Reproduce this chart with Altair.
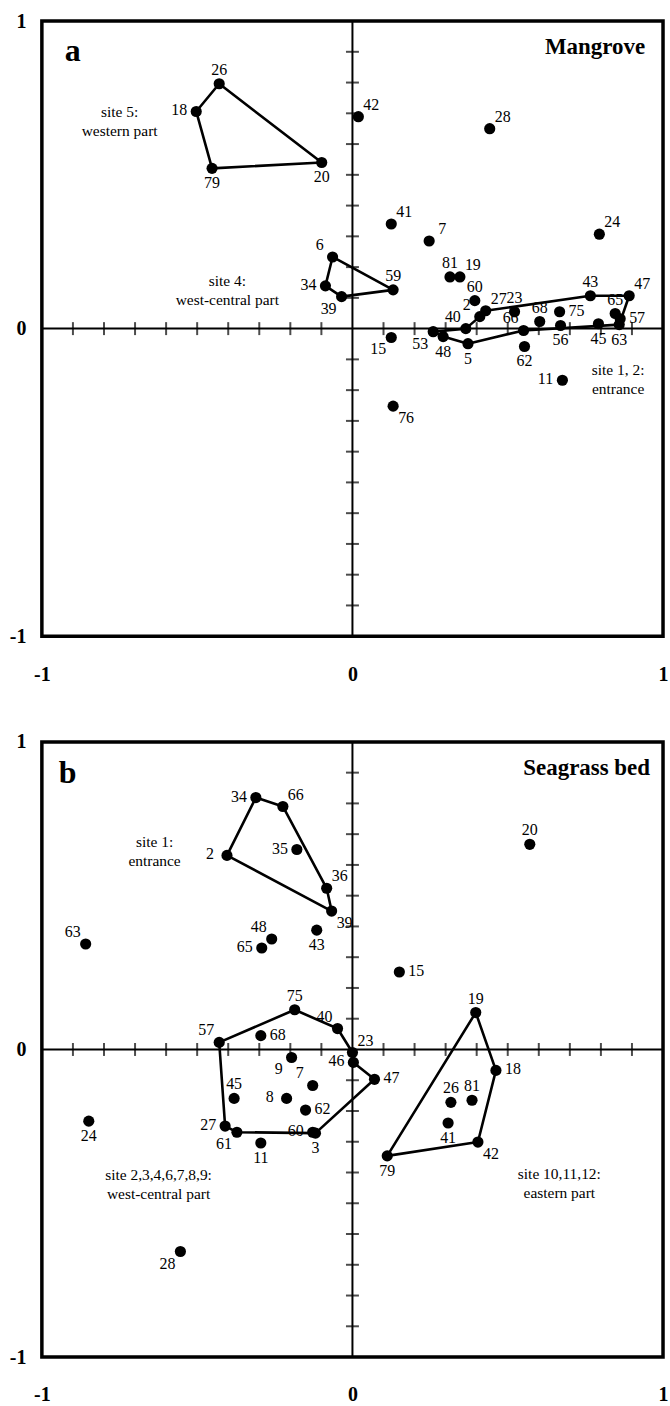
import altair as alt
import pandas as pd

SERIF = "Liberation Serif"

# ---------------- Panel a: Mangrove ----------------
a_ids = [26, 18, 79, 20, 6, 34, 39, 59, 42, 28, 41, 7, 81, 19, 24, 60, 27, 23, 2, 40,
         68, 75, 43, 47, 65, 57, 63, 45, 56, 66, 53, 48, 5, 15, 62, 11, 76]
a_x = [-0.429, -0.503, -0.452, -0.099, -0.064, -0.087, -0.035, 0.131, 0.019, 0.442,
       0.125, 0.247, 0.314, 0.346, 0.795, 0.394, 0.429, 0.522, 0.410, 0.365,
       0.603, 0.667, 0.766, 0.891, 0.846, 0.862, 0.859, 0.792, 0.670, 0.551,
       0.260, 0.292, 0.372, 0.125, 0.554, 0.676, 0.131]
a_y = [0.796, 0.706, 0.521, 0.540, 0.233, 0.139, 0.104, 0.126, 0.689, 0.650,
       0.340, 0.285, 0.168, 0.168, 0.307, 0.091, 0.058, 0.055, 0.039, 0.000,
       0.023, 0.055, 0.107, 0.107, 0.049, 0.032, 0.013, 0.016, 0.010, -0.006,
       -0.010, -0.026, -0.049, -0.029, -0.058, -0.168, -0.252]
a_lab = ["N", "W", "S", "S", "NW", "W", "SW", "N", "NE", "NE",
         "NE", "NE", "N", "NE", "NE", "N", "NE", "N", "NW", "NW",
         "N", "E", "N", "NE", "N", "E", "S", "S", "S", "NW",
         "SW", "S", "S", "SW", "S", "W", "SE"]
a_hulls = {
    "site 5": [26, 20, 79, 18],
    "site 4": [6, 59, 39, 34],
    "site 1, 2": [53, 40, 2, 27, 43, 47, 63, 66, 5, 48],
}
a_notes = [["site 5:", "western part"], ["site 4:", "west-central part"], ["site 1, 2:", "entrance"]]

# ---------------- Panel b: Seagrass bed ----------------
b_ids = [34, 66, 35, 2, 36, 39, 63, 48, 65, 43, 75, 40, 57, 68, 9, 23, 46, 47, 45, 7,
         8, 62, 27, 61, 11, 60, 3, 24, 79, 20, 15, 19, 18, 26, 81, 41, 42, 28]
b_x = [-0.311, -0.224, -0.179, -0.404, -0.083, -0.067, -0.859, -0.260, -0.292, -0.115,
       -0.186, -0.048, -0.429, -0.295, -0.196, 0.000, 0.003, 0.071, -0.381, -0.128,
       -0.212, -0.151, -0.410, -0.372, -0.295, -0.128, -0.119, -0.849, 0.112, 0.571,
       0.151, 0.397, 0.462, 0.317, 0.385, 0.308, 0.404, -0.554]
b_y = [0.819, 0.790, 0.650, 0.631, 0.524, 0.450, 0.343, 0.359, 0.330, 0.388,
       0.129, 0.068, 0.023, 0.045, -0.026, -0.010, -0.042, -0.097, -0.159, -0.117,
       -0.159, -0.197, -0.249, -0.269, -0.304, -0.269, -0.272, -0.233, -0.346, 0.667,
       0.252, 0.120, -0.068, -0.172, -0.165, -0.239, -0.301, -0.657]
b_lab = ["W", "NE", "W", "W", "NE", "SE", "NW", "NW", "W", "S",
         "N", "NW", "NW", "E", "SW", "NE", "W", "E", "N", "NW",
         "W", "E", "W", "SW", "S", "W", "S", "S", "S", "N",
         "E", "N", "E", "N", "N", "S", "SE", "SW"]
b_hulls = {
    "site 1": [34, 66, 36, 39, 2],
    "site 2-9": [57, 75, 40, 23, 46, 47, 3, 61, 27],
    "site 10-12": [19, 18, 42, 79],
}
b_notes = [["site 1:", "entrance"], ["site 2,3,4,6,7,8,9:", "west-central part"],
           ["site 10,11,12:", "eastern part"]]

tick_values = [-0.9, -0.8, -0.7, -0.6, -0.5, -0.4, -0.3, -0.2, -0.1,
               0.1, 0.2, 0.3, 0.4, 0.5, 0.6, 0.7, 0.8, 0.9]
axis_values = [-1, 0, 1]

# ---------------- styling ----------------
W, H = 623, 617
OFF = {"N": (0, -14), "S": (0, 15), "E": (17, -1), "W": (-17, -1),
       "NE": (13, -12), "NW": (-13, -12), "SE": (13, 12), "SW": (-13, 12)}
LABEL_EXPR = "datum.value < 0 ? '-' + abs(datum.value) : '' + datum.value"

xscale = alt.Scale(domain=[-1, 1], nice=False, zero=False)
yscale = alt.Scale(domain=[-1, 1], nice=False, zero=False)
xaxis = alt.Axis(values=axis_values, title=None, grid=False, ticks=False, domain=False,
                 labelFlush=False, labelPadding=28, labelFontSize=20, labelFont=SERIF,
                 labelFontWeight="bold", labelColor="black", labelExpr=LABEL_EXPR)
yaxis = alt.Axis(values=axis_values, title=None, grid=False, ticks=False, domain=False,
                 labelFlush=False, labelPadding=16, labelFontSize=20, labelFont=SERIF,
                 labelFontWeight="bold", labelColor="black", labelExpr=LABEL_EXPR)


def X(f):
    return alt.X(f, type="quantitative", scale=xscale, axis=xaxis)


def Y(f):
    return alt.Y(f, type="quantitative", scale=yscale, axis=yaxis)


def panel(ids, xs, ys, labs, hulls, notes, note_pos, letter, letter_pos, name, name_pos):
    pts = pd.DataFrame({"id": [str(i) for i in ids], "x": xs, "y": ys, "pos": labs})
    look = dict(zip(ids, zip(xs, ys)))
    rows = []
    for h, verts in hulls.items():
        for k, v in enumerate(verts + verts[:1]):
            rows.append({"hull": h, "k": k, "x": look[v][0], "y": look[v][1]})
    hull_df = pd.DataFrame(rows)
    ticks = pd.DataFrame({"t": tick_values, "z": [0.0] * len(tick_values)})
    zero = pd.DataFrame({"z": [0.0]})

    layers = []
    layers.append(alt.Chart(zero).mark_rule(color="black", strokeWidth=2).encode(x=X("z")))
    layers.append(alt.Chart(zero).mark_rule(color="black", strokeWidth=2).encode(y=Y("z")))
    layers.append(alt.Chart(ticks).mark_tick(orient="vertical", size=13, thickness=2, color="black")
                  .encode(x=X("t"), y=Y("z")))
    layers.append(alt.Chart(ticks).mark_tick(orient="horizontal", size=13, thickness=2, color="black")
                  .encode(x=X("z"), y=Y("t")))
    layers.append(alt.Chart(hull_df).mark_line(color="black", strokeWidth=2.6, strokeJoin="round")
                  .encode(x=X("x"), y=Y("y"), detail="hull:N", order="k:Q"))
    layers.append(alt.Chart(pts).mark_circle(color="black", opacity=1, size=125)
                  .encode(x=X("x"), y=Y("y")))
    for d, (dx, dy) in OFF.items():
        layers.append(alt.Chart(pts).transform_filter(alt.datum.pos == d)
                      .mark_text(font=SERIF, fontSize=16, color="black", dx=dx, dy=dy,
                                 align="center", baseline="middle")
                      .encode(x=X("x"), y=Y("y"), text="id:N"))
    for lines, (px, py) in zip(notes, note_pos):
        layers.append(alt.Chart(zero).mark_text(font=SERIF, fontSize=15.5, color="black",
                                                align="center", baseline="alphabetic",
                                                lineHeight=19, text=lines)
                      .encode(x=alt.value(px), y=alt.value(py)))
    layers.append(alt.Chart(zero).mark_text(font=SERIF, fontSize=32, fontWeight="bold",
                                            color="black", align="left", baseline="alphabetic",
                                            text=letter)
                  .encode(x=alt.value(letter_pos[0]), y=alt.value(letter_pos[1])))
    layers.append(alt.Chart(zero).mark_text(font=SERIF, fontSize=23, fontWeight="bold",
                                            color="black", align="right", baseline="alphabetic",
                                            text=name)
                  .encode(x=alt.value(name_pos[0]), y=alt.value(name_pos[1])))
    return alt.layer(*layers).properties(width=W, height=H)


pa = panel(a_ids, a_x, a_y, a_lab, a_hulls, a_notes, [(78, 96), (186, 266), (578, 355)],
           "a", (23, 40), "Mangrove", (605, 33))
pb = panel(b_ids, b_x, b_y, b_lab, b_hulls, b_notes, [(113, 105), (117, 439), (519, 438)],
           "b", (17, 41), "Seagrass bed", (610, 33))

chart = (alt.vconcat(pa, pb, spacing=106, bounds="flush")
         .configure_view(stroke="black", strokeWidth=3.5)
         .properties(padding={"left": 7, "top": 7, "right": 0, "bottom": 0}, background="white"))

chart.save("out.html", embed_options={"renderer": "svg", "actions": False})
